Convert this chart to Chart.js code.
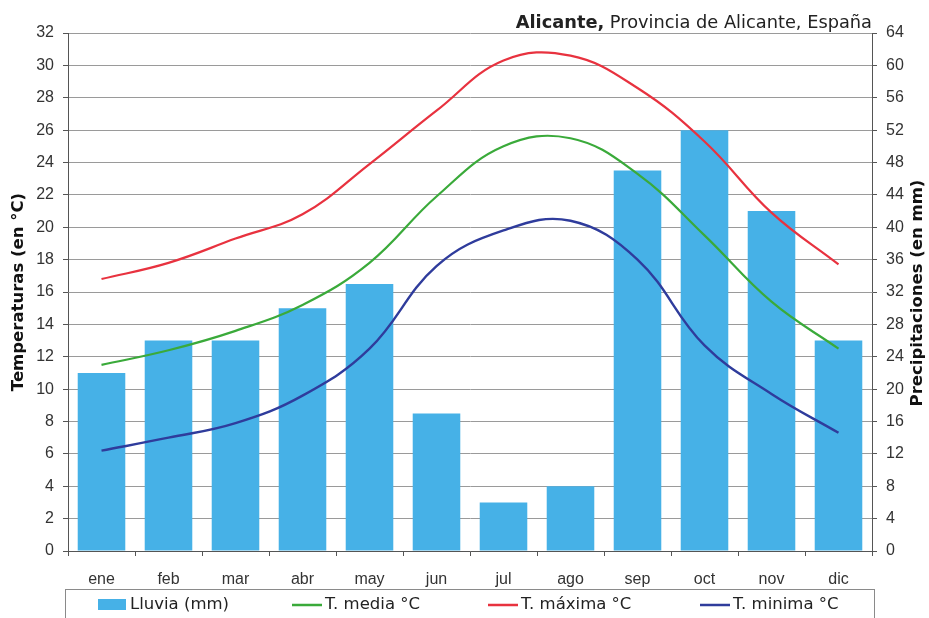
<!DOCTYPE html>
<html lang="es">
<head>
<meta charset="utf-8">
<title>Climograma de Alicante</title>
<script src="https://cdn.jsdelivr.net/npm/chart.js@4/dist/chart.umd.min.js"></script>
<style>
  html, body { margin: 0; padding: 0; background: #ffffff; }
  #wrap { width: 929px; height: 618px; position: relative; }
</style>
</head>
<body>
<div id="wrap"><canvas id="clima" width="929" height="618"></canvas></div>
<script>
// Meses
const meses = ['ene', 'feb', 'mar', 'abr', 'may', 'jun', 'jul', 'ago', 'sep', 'oct', 'nov', 'dic'];

// Precipitaciones mensuales (mm) - eje derecho
const lluvia = [22, 26, 26, 30, 33, 17, 6, 8, 47, 52, 42, 26];

// Temperaturas (°C) - eje izquierdo
const tMedia  = [11.5, 12.4, 13.6, 15.2, 17.8, 21.9, 25.0, 25.5, 23.3, 19.5, 15.4, 12.5];
const tMaxima = [16.8, 17.8, 19.3, 20.8, 23.9, 27.2, 30.3, 30.6, 28.6, 25.3, 20.9, 17.7];
const tMinima = [6.2, 7.0, 7.9, 9.6, 12.5, 17.6, 19.8, 20.4, 18.0, 12.7, 9.7, 7.3];

// Marcas de los ejes
const ticksTemp = { min: 0, max: 32, step: 2 };
const ticksPrec = { min: 0, max: 64, step: 4 };

const FONT = '"Liberation Sans", Arial, sans-serif';
const FONT_ANCHA = '"DejaVu Sans", Verdana, sans-serif';
const colores = {
  lluvia: '#46B1E7',
  media: '#3AAA3A',
  maxima: '#E8323F',
  minima: '#2F3C9C'
};

// Título, títulos de ejes y leyenda enmarcada
const decoracion = {
  id: 'decoracion',
  afterDraw(chart) {
    const ctx = chart.ctx;
    const area = chart.chartArea;
    ctx.save();

    // Título: nombre en negrita y resto en normal, alineado a la derecha
    const parteNegrita = 'Alicante,';
    const parteNormal = ' Provincia de Alicante, España';
    ctx.textBaseline = 'middle';
    ctx.fillStyle = '#222';
    ctx.font = 'bold 17.8px ' + FONT_ANCHA;
    const wB = ctx.measureText(parteNegrita).width;
    ctx.font = '17.8px ' + FONT_ANCHA;
    const wN = ctx.measureText(parteNormal).width;
    const xFin = area.right;
    ctx.font = 'bold 17.8px ' + FONT_ANCHA;
    ctx.textAlign = 'left';
    ctx.fillText(parteNegrita, xFin - wB - wN, 23);
    ctx.font = '17.8px ' + FONT_ANCHA;
    ctx.fillText(parteNormal, xFin - wN, 23);

    // Títulos de los ejes (ambos leídos de abajo arriba)
    ctx.font = 'bold 16.5px ' + FONT_ANCHA;
    ctx.textAlign = 'center';
    ctx.fillStyle = '#111';
    ctx.save();
    ctx.translate(19, 292);
    ctx.rotate(-Math.PI / 2);
    ctx.fillText('Temperaturas (en °C)', 0, 0);
    ctx.restore();
    ctx.save();
    ctx.translate(918, 293);
    ctx.rotate(-Math.PI / 2);
    ctx.fillText('Precipitaciones (en mm)', 0, 0);
    ctx.restore();

    // Leyenda
    ctx.strokeStyle = '#8a8a8a';
    ctx.lineWidth = 1;
    ctx.strokeRect(65.5, 589.5, 809, 40);
    const xs = [98, 292, 488, 700];
    const yL = 605;
    ctx.font = '16.5px ' + FONT_ANCHA;
    ctx.textAlign = 'left';
    ctx.textBaseline = 'middle';
    chart.data.datasets.forEach((ds, i) => {
      const x0 = xs[i];
      if (ds.type === 'line') {
        ctx.strokeStyle = ds.borderColor;
        ctx.lineWidth = 2.5;
        ctx.beginPath();
        ctx.moveTo(x0, yL);
        ctx.lineTo(x0 + 30, yL);
        ctx.stroke();
      } else {
        ctx.fillStyle = ds.backgroundColor;
        ctx.fillRect(x0, yL - 6, 28, 11);
      }
      ctx.fillStyle = '#222';
      ctx.fillText(ds.label, x0 + (ds.type === 'line' ? 33 : 32), yL);
    });
    ctx.restore();
  }
};

new Chart(document.getElementById('clima'), {
  type: 'bar',
  data: {
    labels: meses,
    datasets: [
      {
        type: 'bar',
        label: 'Lluvia (mm)',
        data: lluvia,
        yAxisID: 'yPrec',
        backgroundColor: colores.lluvia,
        borderWidth: 0,
        categoryPercentage: 1,
        barPercentage: 0.71,
        order: 2
      },
      {
        type: 'line',
        label: 'T. media °C',
        data: tMedia,
        yAxisID: 'yTemp',
        borderColor: colores.media,
        borderWidth: 2.2,
        pointRadius: 0,
        tension: 0.4,
        fill: false,
        order: 1
      },
      {
        type: 'line',
        label: 'T. máxima °C',
        data: tMaxima,
        yAxisID: 'yTemp',
        borderColor: colores.maxima,
        borderWidth: 2.2,
        pointRadius: 0,
        tension: 0.4,
        fill: false,
        order: 0
      },
      {
        type: 'line',
        label: 'T. minima °C',
        data: tMinima,
        yAxisID: 'yTemp',
        borderColor: colores.minima,
        borderWidth: 2.4,
        pointRadius: 0,
        tension: 0.4,
        fill: false,
        order: 0
      }
    ]
  },
  options: {
    responsive: false,
    animation: false,
    layout: { padding: { top: 33, left: 0, right: 0, bottom: 0 } },
    plugins: {
      legend: { display: false },
      title: { display: false },
      tooltip: { enabled: false }
    },
    scales: {
      x: {
        offset: true,
        grid: {
          offset: true,
          drawOnChartArea: false,
          drawTicks: true,
          tickLength: 5,
          color: '#555'
        },
        border: { color: '#555', width: 1 },
        ticks: {
          color: '#333',
          font: { family: FONT, size: 16 },
          padding: 14,
          maxRotation: 0
        },
        afterFit(scale) { scale.height = 67; }
      },
      yTemp: {
        position: 'left',
        min: ticksTemp.min,
        max: ticksTemp.max,
        ticks: {
          stepSize: ticksTemp.step,
          color: '#333',
          font: { family: FONT, size: 16 },
          padding: 9
        },
        grid: {
          color: '#9a9a9a',
          lineWidth: 1,
          tickLength: 5,
          tickColor: '#555'
        },
        border: { color: '#555', width: 1 },
        afterFit(scale) { scale.width = 68; }
      },
      yPrec: {
        position: 'right',
        min: ticksPrec.min,
        max: ticksPrec.max,
        ticks: {
          stepSize: ticksPrec.step,
          color: '#333',
          font: { family: FONT, size: 16 },
          padding: 9
        },
        grid: {
          drawOnChartArea: false,
          tickLength: 5,
          color: '#555'
        },
        border: { color: '#555', width: 1 },
        afterFit(scale) { scale.width = 57; }
      }
    }
  },
  plugins: [decoracion]
});
</script>
</body>
</html>
